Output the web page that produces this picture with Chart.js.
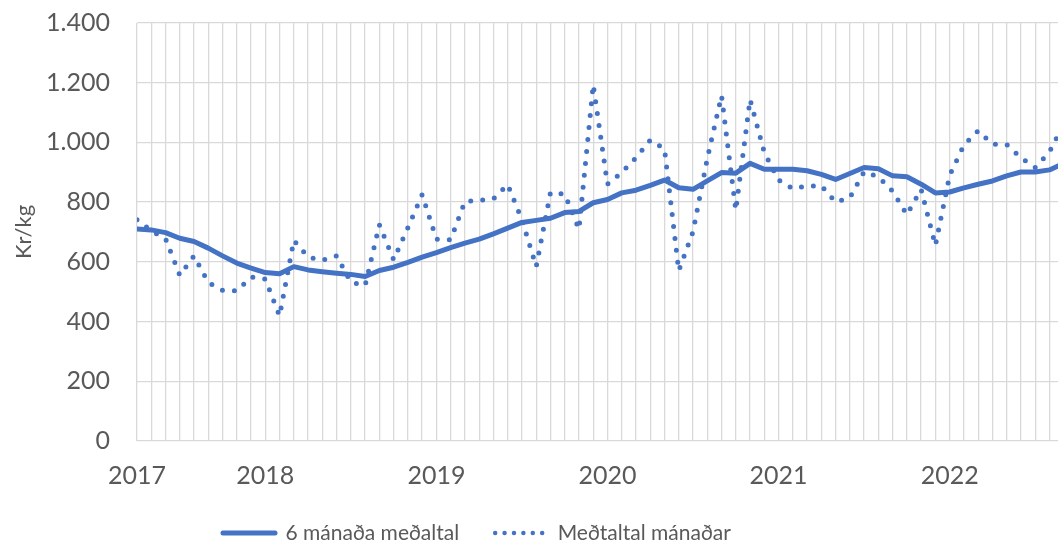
<!DOCTYPE html>
<html>
<head>
<meta charset="utf-8">
<script src="https://cdn.jsdelivr.net/npm/chart.js@4.4.1/dist/chart.umd.min.js"></script>
<style>
  html, body { margin: 0; padding: 0; background: #ffffff; overflow: hidden; }
  #wrap { width: 1058px; height: 548px; position: relative; }
</style>
</head>
<body>
<div id="wrap"><canvas id="c" width="1058" height="548"></canvas></div>
<script>
// ---- data (monthly, first point = April 2017) ----
const yearLabels = ['2017', '2018', '2019', '2020', '2021', '2022'];
const yearTickIndex = [0, 9, 21, 33, 45, 57];
const yTickValues = [0, 200, 400, 600, 800, 1000, 1200, 1400];
const seriesNames = ['6 mánaða meðaltal', 'Meðtaltal mánaðar'];
const yAxisTitle = 'Kr/kg';

const avg6 = [710, 707, 698, 679, 668, 646, 620, 596, 579, 564,
              560, 584, 573, 567, 562, 558, 551, 571, 582, 598,
              616, 631, 648, 663, 676, 694, 713, 732, 739, 746,
              765, 769, 798, 809, 831, 840, 856, 874, 848, 843,
              871, 899, 897, 930, 910, 910, 910, 905, 893, 876,
              896, 916, 912, 888, 885, 860, 831, 834, 848, 860,
              871, 888, 901, 901, 908, 930];

const monthly = [741, 704, 678, 555, 620, 531, 505, 503, 549, 542,
                 419, 672, 616, 605, 620, 532, 520, 724, 607, 714,
                 825, 676, 674, 802, 806, 811, 859, 741, 584, 832,
                 827, 709, 1193, 860, 899, 949, 1008, 978, 570, 701,
                 946, 1157, 773, 1144, 966, 874, 845, 854, 855, 800,
                 815, 902, 885, 837, 758, 843, 655, 890, 991, 1039,
                 994, 993, 949, 916, 968, 1062];

// ---- styles ----
const BLUE = '#4472C4';
const TEXT = '#595959';
const GRID = '#D9D9D9';
const FONT = 'Lato, "Open Sans", sans-serif';

const toPoints = arr => arr.map((v, i) => ({ x: i, y: v }));
const fmtThousands = v => String(v).replace(/\B(?=(\d{3})+(?!\d))/g, '.');

const LEGEND_PAD = 36;
const LEGEND_FS = 21;
const legendPlacer = {
  id: 'legendPlacer',
  afterLayout(chart) {
    const lg = chart.legend;
    if (!lg) return;
    const startX = 223;
    const centerY = 533;
    lg.left = startX - LEGEND_PAD;
    lg.right = lg.left + lg.lineWidths[0] + LEGEND_PAD;
    const h = lg.height;
    lg.top = centerY - LEGEND_PAD - LEGEND_FS / 2;
    lg.bottom = lg.top + h;
  }
};

new Chart(document.getElementById('c'), {
  type: 'line',
  data: {
    datasets: [
      {
        label: seriesNames[0],
        data: toPoints(avg6),
        borderColor: BLUE,
        backgroundColor: BLUE,
        borderWidth: 5,
        pointRadius: 0,
        tension: 0,
        borderCapStyle: 'round',
        borderJoinStyle: 'round',
        order: 1
      },
      {
        label: seriesNames[1],
        data: toPoints(monthly),
        borderColor: BLUE,
        backgroundColor: BLUE,
        borderWidth: 5,
        borderDash: [0, 12],
        borderCapStyle: 'round',
        borderJoinStyle: 'round',
        pointRadius: 0,
        tension: 0,
        order: 0
      }
    ]
  },
  options: {
    responsive: false,
    animation: false,
    devicePixelRatio: 1,
    layout: { padding: { top: 23, right: 0, bottom: -20, left: 0 } },
    plugins: {
      tooltip: { enabled: false },
      legend: {
        position: 'bottom',
        align: 'start',
        labels: {
          usePointStyle: true,
          pointStyleWidth: 52,
          padding: LEGEND_PAD,
          color: TEXT,
          font: { family: FONT, size: LEGEND_FS },
          generateLabels: () => [
            { text: seriesNames[0], fillStyle: BLUE, strokeStyle: BLUE, lineWidth: 5,
              lineCap: 'round', lineDash: [], pointStyle: 'line', fontColor: TEXT,
              hidden: false, datasetIndex: 0 },
            { text: seriesNames[1], fillStyle: BLUE, strokeStyle: BLUE, lineWidth: 4.5,
              lineCap: 'round', lineDash: [0, 9.4], pointStyle: 'line', fontColor: TEXT,
              hidden: false, datasetIndex: 1 }
          ]
        }
      }
    },
    scales: {
      x: {
        type: 'linear',
        min: 0,
        max: 64.6,
        grid: { color: GRID, lineWidth: 1.3, drawTicks: false },
        border: { display: false },
        ticks: {
          stepSize: 1,
          autoSkip: false,
          includeBounds: false,
          maxRotation: 0,
          padding: 20,
          color: TEXT,
          font: { family: FONT, size: 25 },
          callback: v => {
            const k = yearTickIndex.indexOf(v);
            return k >= 0 ? yearLabels[k] : '';
          }
        },
        afterFit: s => { s.height = 60; s.paddingLeft = 0; s.paddingRight = 0; }
      },
      y: {
        min: 0,
        max: 1400,
        afterBuildTicks: s => { s.ticks = yTickValues.map(v => ({ value: v })); },
        grid: { color: GRID, lineWidth: 1.3, drawTicks: false },
        border: { display: false },
        ticks: {
          padding: 27,
          color: TEXT,
          font: { family: FONT, size: 25 },
          callback: v => fmtThousands(v)
        },
        title: {
          display: true,
          text: yAxisTitle,
          color: TEXT,
          font: { family: FONT, size: 22 },
          padding: { top: 11, bottom: 0 }
        },
        afterFit: s => { s.width = 137; s.paddingTop = 0; s.paddingBottom = 0; }
      }
    }
  },
  plugins: [legendPlacer]
});
</script>
</body>
</html>
